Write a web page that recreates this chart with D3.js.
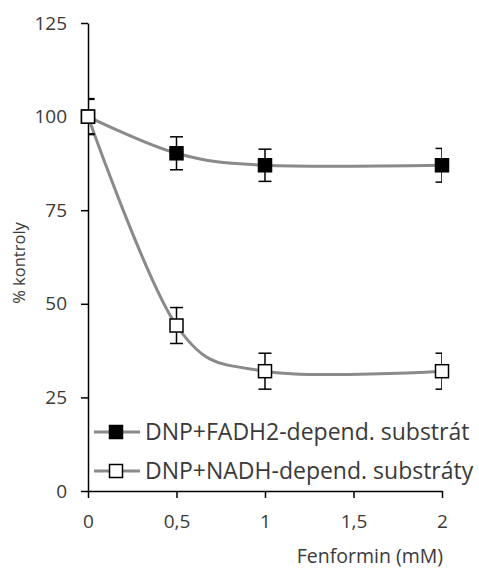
<!DOCTYPE html>
<html><head><meta charset="utf-8">
<script src="https://cdn.jsdelivr.net/npm/d3@7"></script>
<style>body{margin:0;background:#fff;} text{font-family:"Open Sans",sans-serif;fill:#3a3a3a;}</style>
</head><body>
<svg id="c" width="479" height="570"></svg>
<script>
const xValues = [0, 0.5, 1, 2];
const fadhValues = [100, 90.2, 87.0, 87.0];
const fadhErrors = [4.6, 4.4, 4.3, 4.5];
const nadhValues = [100, 44.2, 32.0, 32.0];
const nadhErrors = [4.8, 4.8, 4.8, 4.8];
const seriesNames = ["DNP+FADH2-depend. substrát", "DNP+NADH-depend. substráty"];
const xTicks = [0, 0.5, 1, 1.5, 2];
const yTicks = [0, 25, 50, 75, 100, 125];
const xTitle = "Fenformin (mM)";
const yTitle = "% kontroly";

const svg = d3.select("#c");
const x = d3.scaleLinear().domain([0, 2]).range([88, 442]);
const y = d3.scaleLinear().domain([0, 125]).range([491, 23]);
const fmt = d => String(d).replace(".", ",");

svg.append("defs").append("clipPath").attr("id", "clip")
  .append("rect").attr("x", x(0)).attr("y", 0).attr("width", x(2) - x(0)).attr("height", 570);

// axes
const yAxis = svg.append("g").attr("transform", `translate(${x(0)},0)`)
  .call(d3.axisLeft(y).tickValues(yTicks).tickSize(7).tickSizeOuter(0).tickPadding(14).tickFormat(fmt));
const xAxis = svg.append("g").attr("transform", `translate(0,${y(0)})`)
  .call(d3.axisBottom(x).tickValues(xTicks).tickSize(7).tickSizeOuter(0).tickPadding(17).tickFormat(fmt));
[yAxis, xAxis].forEach(a => {
  a.attr("color", "#000");
  a.selectAll(".domain").attr("stroke", "#000").attr("stroke-width", 1.5);
  a.selectAll(".tick line").attr("stroke", "#000").attr("stroke-width", 1.5);
  a.selectAll(".tick text").style("font-size", "19px").style("fill", "#3a3a3a");
});

svg.append("text").attr("transform", `translate(25,${(218+308)/2}) rotate(-90)`)
  .attr("text-anchor", "middle").style("font-size", "16.5px").text(yTitle);
svg.append("text").attr("x", 443).attr("y", 563).attr("text-anchor", "end")
  .style("font-size", "19.5px").text(xTitle);

const data = [
  {vals: fadhValues, errs: fadhErrors, fill: "#000"},
  {vals: nadhValues, errs: nadhErrors, fill: "#fff"}
];
const line = d3.line().x((d, i) => x(xValues[i])).y(d => y(d)).curve(d3.curveCardinal.tension(0));

data.forEach(s => {
  svg.append("path").attr("d", line(s.vals)).attr("fill", "none")
    .attr("stroke", "#8a8a8a").attr("stroke-width", 3);
});
data.forEach(s => {
  const g = svg.append("g").attr("clip-path", "url(#clip)");
  s.vals.forEach((v, i) => {
    const cx = x(xValues[i]), top = y(v + s.errs[i]), bot = y(v - s.errs[i]);
    g.append("line").attr("x1", cx).attr("x2", cx).attr("y1", top).attr("y2", bot).attr("stroke", "#000").attr("stroke-width", 1.5);
    [top, bot].forEach(yy => g.append("line").attr("x1", cx - 6.5).attr("x2", cx + 6.5).attr("y1", yy).attr("y2", yy).attr("stroke", "#000").attr("stroke-width", 1.5));
  });
  s.vals.forEach((v, i) => {
    svg.append("rect").attr("x", x(xValues[i]) - 6.5).attr("y", y(v) - 6.5).attr("width", 13).attr("height", 13)
      .attr("fill", s.fill).attr("stroke", "#000").attr("stroke-width", 1.5);
  });
});

// legend
data.forEach((s, i) => {
  const ly = 432 + i * 39;
  svg.append("line").attr("x1", 94).attr("x2", 140).attr("y1", ly).attr("y2", ly).attr("stroke", "#8a8a8a").attr("stroke-width", 3);
  svg.append("rect").attr("x", 116 - 6.5).attr("y", ly - 6.5).attr("width", 13).attr("height", 13)
    .attr("fill", s.fill).attr("stroke", "#000").attr("stroke-width", 1.5);
  svg.append("text").attr("x", 145).attr("y", ly).attr("dy", "0.36em").style("font-size", "23px").text(seriesNames[i]);
});
</script>
</body></html>
